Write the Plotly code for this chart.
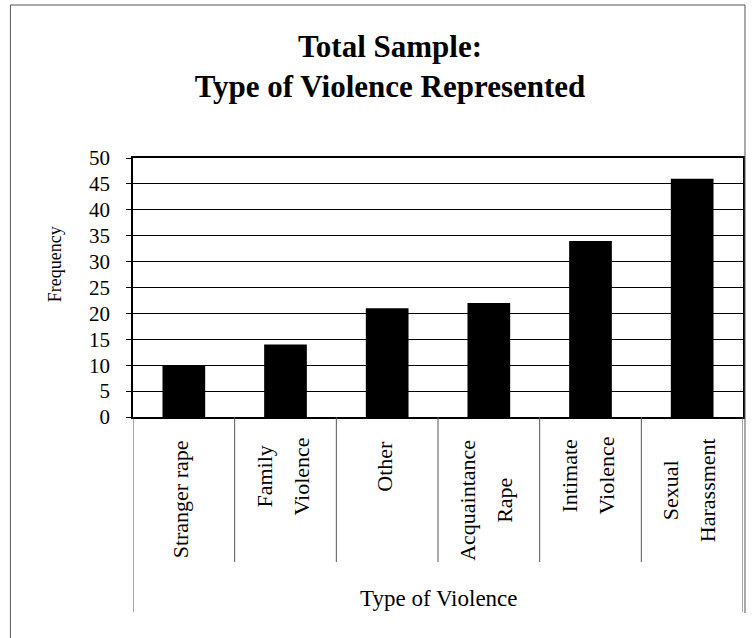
import plotly.graph_objects as go

# ---- data -------------------------------------------------------------
categories = ["Stranger rape", "Family Violence", "Other",
              "Acquaintance Rape", "Intimate Violence", "Sexual Harassment"]
frequency = [10, 14, 21, 22, 34, 46]
label_lines = [["Stranger rape"], ["Family", "Violence"], ["Other"],
               ["Acquaintance", "Rape"], ["Intimate", "Violence"],
               ["Sexual", "Harassment"]]
y_ticks = [0, 5, 10, 15, 20, 25, 30, 35, 40, 45, 50]
title_lines = ["Total Sample:", "Type of Violence Represented"]
x_title = "Type of Violence"
y_title = "Frequency"

# ---- page geometry (pixels) ------------------------------------------
W, H = 756, 638
ML, MR, MT, MB = 133, 11, 158, 221
PW, PH = W - ML - MR, H - MT - MB
PLOT_BOTTOM = MT + PH


def px(xp):
    return (xp - ML) / PW


def py(yp):
    return (PLOT_BOTTOM - yp) / PH


SERIF = "Liberation Serif, Times New Roman, serif"

fig = go.Figure(go.Bar(
    x=categories, y=frequency,
    marker=dict(color="black", line=dict(width=0)),
    hoverinfo="skip",
))

# rotated category labels, one annotation per text line
label_center_y = [499, 477, 466, 500, 476, 490]
line_gap, block_shift = 37, -3.5
annotations = []
for cat, lines, cy in zip(categories, label_lines, label_center_y):
    n = len(lines)
    for j, line in enumerate(lines):
        annotations.append(dict(
            x=cat, xref="x", y=0, yref="paper", yanchor="middle", xanchor="center",
            xshift=block_shift + (j - (n - 1) / 2) * line_gap,
            yshift=-(cy - PLOT_BOTTOM),
            text=line, textangle=-90, showarrow=False,
            font=dict(family=SERIF, size=22, color="black"),
        ))

annotations.append(dict(
    x=px(55), y=py(264), xref="paper", yref="paper",
    text=y_title, textangle=-90, showarrow=False,
    xanchor="center", yanchor="middle",
    font=dict(family=SERIF, size=18, color="black"),
))
annotations.append(dict(
    x=px(440), y=py(598), xref="paper", yref="paper",
    text=x_title, showarrow=False, xanchor="center", yanchor="middle",
    font=dict(family=SERIF, size=23, color="black"),
))

# category divider lines below the axis
shapes = []
for k in range(len(categories) + 1):
    edge = k in (0, len(categories))
    shapes.append(dict(
        type="line", xref="x", yref="paper",
        x0=k - 0.5, x1=k - 0.5, y0=0, y1=py(612 if edge else 562),
        line=dict(color="#555555", width=1),
    ))

# outer chart frame
shapes.append(dict(
    type="path", xref="paper", yref="paper",
    path=(f"M {px(10)} {py(638)} L {px(10)} {py(5)} "
          f"L {px(747)} {py(5)} L {px(747)} {py(613)}"),
    line=dict(color="#555555", width=1),
))

fig.update_layout(
    width=W, height=H,
    margin=dict(l=ML, r=MR, t=MT, b=MB),
    paper_bgcolor="white", plot_bgcolor="white",
    showlegend=False, bargap=0.58,
    title=dict(
        text="<br>".join(title_lines),
        x=390 / W, xref="container", xanchor="center",
        y=1 - 57 / H, yref="container", yanchor="top",
        font=dict(family=SERIF, size=31, color="black", weight="bold"),
    ),
    annotations=annotations,
    shapes=shapes,
)

fig.update_xaxes(
    type="category", range=[-0.5, len(categories) - 0.5],
    showticklabels=False, ticks="",
    showline=True, mirror=True, linecolor="black", linewidth=1.5,
    showgrid=False, fixedrange=True,
)
fig.update_yaxes(
    range=[0, 50], tickvals=y_ticks, ticktext=[str(v) for v in y_ticks],
    showgrid=True, gridcolor="black", gridwidth=1,
    ticks="outside", ticklen=5, tickcolor="black", tickwidth=1,
    ticklabelstandoff=12,
    showline=True, mirror=True, linecolor="black", linewidth=1.5,
    tickfont=dict(family=SERIF, size=21, color="black"),
    zeroline=False, fixedrange=True,
)

fig.write_html("out.html")
